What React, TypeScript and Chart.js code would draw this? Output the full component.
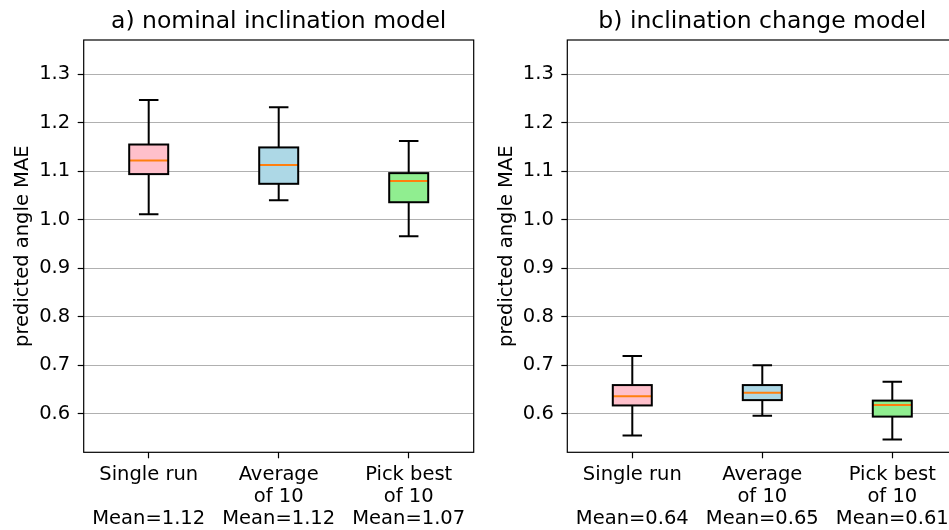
import React, { useEffect, useRef } from "react";
import { Chart, registerables } from "chart.js";

Chart.register(...registerables);
Chart.defaults.font.family = "'DejaVu Sans', sans-serif";
Chart.defaults.color = "#000000";

// ---- data ----
const categories = ["Single run", "Average", "Pick best"];
const categorySecondLine = ["", "of 10", "of 10"];
const boxColors = ["#ffc0cb", "#add8e6", "#90ee90"];

const nominalMeans = [1.12, 1.12, 1.07];
const nominalMin = [1.011, 1.04, 0.966];
const nominalQ1 = [1.094, 1.074, 1.036];
const nominalMedian = [1.122, 1.113, 1.08];
const nominalQ3 = [1.155, 1.149, 1.096];
const nominalMax = [1.247, 1.232, 1.162];

const changeMeans = [0.64, 0.65, 0.61];
const changeMin = [0.555, 0.596, 0.547];
const changeQ1 = [0.617, 0.628, 0.594];
const changeMedian = [0.636, 0.643, 0.618];
const changeQ3 = [0.659, 0.659, 0.627];
const changeMax = [0.719, 0.7, 0.666];

const yTicks = [0.6, 0.7, 0.8, 0.9, 1.0, 1.1, 1.2, 1.3];
const yMin = 0.5204;
const yMax = 1.3705;

// ---- layout constants ----
const CANVAS_W = 475;
const CANVAS_H = 530;
const PLOT_W = 390;
const PLOT_TOP = 40;
const PLOT_BOTTOM = 452.3;
const TICK_FONT = 19.5;
const TITLE_FONT = 23.5;

const boxPlugin = {
  id: "boxStats",
  afterDatasetsDraw(chart: any, _args: any, opts: any) {
    const { ctx } = chart;
    const y = chart.scales.y;
    const meta = chart.getDatasetMeta(0);
    ctx.save();
    ctx.lineCap = "butt";
    opts.min.forEach((mn: number, i: number) => {
      const bar = meta.data[i];
      const cx = bar.x;
      const half = bar.width / 2;
      const capHalf = bar.width / 4;
      const yMinPx = y.getPixelForValue(mn);
      const yMaxPx = y.getPixelForValue(opts.max[i]);
      const yQ1 = y.getPixelForValue(opts.q1[i]);
      const yQ3 = y.getPixelForValue(opts.q3[i]);
      ctx.strokeStyle = "#000000";
      ctx.lineWidth = 2;
      ctx.beginPath();
      ctx.moveTo(cx, yQ3);
      ctx.lineTo(cx, yMaxPx);
      ctx.moveTo(cx, yQ1);
      ctx.lineTo(cx, yMinPx);
      ctx.moveTo(cx - capHalf, yMaxPx);
      ctx.lineTo(cx + capHalf, yMaxPx);
      ctx.moveTo(cx - capHalf, yMinPx);
      ctx.lineTo(cx + capHalf, yMinPx);
      ctx.stroke();
      const yMed = y.getPixelForValue(opts.median[i]);
      ctx.strokeStyle = "#ff7f0e";
      ctx.lineWidth = 2;
      ctx.beginPath();
      ctx.moveTo(cx - half, yMed);
      ctx.lineTo(cx + half, yMed);
      ctx.stroke();
      ctx.strokeStyle = "#000000";
      ctx.lineWidth = 2;
      ctx.strokeRect(cx - half, yQ3, bar.width, yQ1 - yQ3);
    });
    ctx.restore();
  },
};

const framePlugin = {
  id: "frame",
  afterDraw(chart: any) {
    const { ctx, chartArea } = chart;
    ctx.save();
    ctx.strokeStyle = "#000000";
    ctx.lineWidth = 1.2;
    ctx.strokeRect(chartArea.left, chartArea.top, chartArea.right - chartArea.left, chartArea.bottom - chartArea.top);
    ctx.restore();
  },
};

type BoxProps = {
  title: string;
  means: number[];
  mins: number[];
  q1: number[];
  medians: number[];
  q3: number[];
  maxs: number[];
  left: number;
  yAxisWidth: number;
};

function BoxChart(props: BoxProps) {
  const ref = useRef<HTMLCanvasElement>(null);
  useEffect(() => {
    const labels = categories.map((c, i) => [c, categorySecondLine[i], "Mean=" + props.means[i].toFixed(2)]);
    const chart = new Chart(ref.current as HTMLCanvasElement, {
      type: "bar",
      data: {
        labels,
        datasets: [
          {
            data: props.q1.map((v, i) => [v, props.q3[i]]),
            backgroundColor: boxColors,
            borderWidth: 0,
            borderSkipped: false,
            barPercentage: 0.3,
            categoryPercentage: 1,
          } as any,
        ],
      },
      options: {
        responsive: false,
        animation: false,
        devicePixelRatio: 1,
        events: [],
        layout: {
          padding: { left: 0, top: 0, bottom: 0, right: CANVAS_W - props.yAxisWidth - PLOT_W },
        },
        plugins: {
          legend: { display: false },
          tooltip: { enabled: false },
          title: {
            display: true,
            text: props.title,
            fullSize: false,
            color: "#000000",
            font: { size: TITLE_FONT, weight: "normal" as any, lineHeight: 1.2 },
            padding: { top: 7.5, bottom: PLOT_TOP - 7.5 - TITLE_FONT * 1.2 },
          },
          boxStats: { min: props.mins, max: props.maxs, q1: props.q1, q3: props.q3, median: props.medians },
        } as any,
        scales: {
          x: {
            type: "category",
            offset: true,
            grid: {
              offset: false,
              drawOnChartArea: false,
              drawTicks: true,
              tickLength: 6,
              tickColor: "#000000",
              color: "#000000",
              tickWidth: 1.2,
            } as any,
            border: { display: false },
            ticks: {
              color: "#000000",
              font: { size: TICK_FONT, lineHeight: 21.7 / TICK_FONT },
              padding: 6,
              maxRotation: 0,
              minRotation: 0,
              autoSkip: false,
            },
            afterFit: (s: any) => {
              s.height = CANVAS_H - PLOT_BOTTOM;
            },
          },
          y: {
            type: "linear",
            min: yMin,
            max: yMax,
            grid: {
              color: "#b0b0b0",
              lineWidth: 1,
              drawTicks: true,
              tickLength: 6,
              tickColor: "#000000",
              tickWidth: 1.2,
            } as any,
            border: { display: false },
            ticks: {
              color: "#000000",
              font: { size: TICK_FONT },
              padding: 7.5,
              callback: (v: any) => Number(v).toFixed(1),
            },
            afterBuildTicks: (s: any) => {
              s.ticks = yTicks.map((v) => ({ value: v }));
            },
            afterFit: (s: any) => {
              s.width = props.yAxisWidth;
            },
            title: {
              display: true,
              text: "predicted angle MAE",
              color: "#000000",
              font: { size: 19.5, lineHeight: 1.2 },
              padding: { top: 11, bottom: 0 },
            },
          },
        },
      },
      plugins: [boxPlugin, framePlugin],
    });
    return () => chart.destroy();
  }, []);
  return (
    <canvas
      ref={ref}
      width={CANVAS_W}
      height={CANVAS_H}
      style={{ position: "absolute", left: props.left, top: 0, width: CANVAS_W, height: CANVAS_H, display: "block" }}
    />
  );
}

export default function App() {
  return (
    <div
      style={{
        position: "fixed",
        left: 0,
        top: 0,
        width: 949,
        height: 530,
        overflow: "hidden",
        background: "#ffffff",
      }}
    >
      <BoxChart
        title="a) nominal inclination model"
        means={nominalMeans}
        mins={nominalMin}
        q1={nominalQ1}
        medians={nominalMedian}
        q3={nominalQ3}
        maxs={nominalMax}
        left={0}
        yAxisWidth={83.7}
      />
      <BoxChart
        title="b) inclination change model"
        means={changeMeans}
        mins={changeMin}
        q1={changeQ1}
        medians={changeMedian}
        q3={changeQ3}
        maxs={changeMax}
        left={484}
        yAxisWidth={83.3}
      />
    </div>
  );
}
